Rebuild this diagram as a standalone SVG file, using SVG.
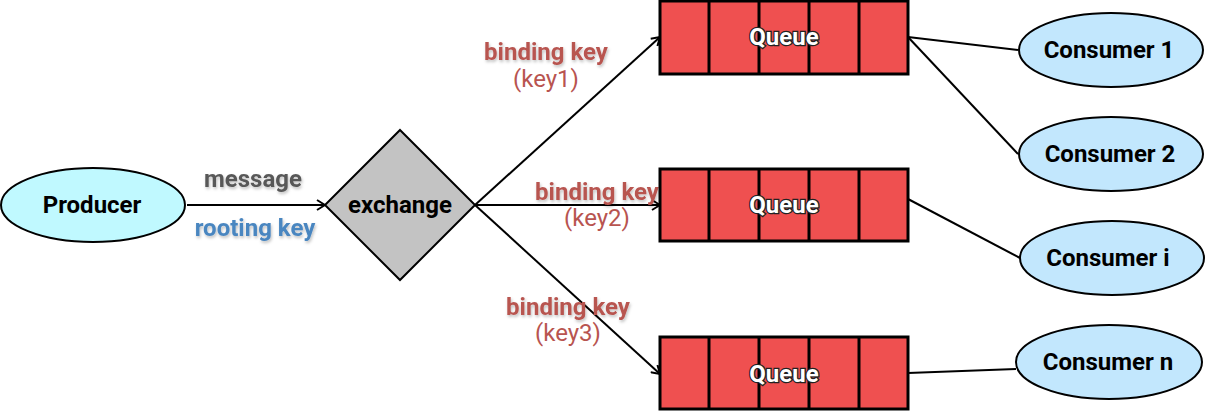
<svg xmlns="http://www.w3.org/2000/svg" width="1206" height="411" viewBox="0 0 1206 411">
<style>
.n{font-family:Roboto,"Liberation Sans",sans-serif;font-weight:bold;font-size:24px;fill:#000;text-anchor:middle;dominant-baseline:central}
.q{font-family:Roboto,"Liberation Sans",sans-serif;font-weight:bold;font-size:24px;fill:#fff;stroke:#222;stroke-width:2.5;paint-order:stroke;text-anchor:middle;dominant-baseline:central}
.bk{font-family:Roboto,"Liberation Sans",sans-serif;font-weight:bold;font-size:24px;fill:#b85450;text-anchor:middle;dominant-baseline:central}
.k{font-family:Roboto,"Liberation Sans",sans-serif;font-size:24px;fill:#b85450;text-anchor:middle;dominant-baseline:central}
.cell{fill:#ef5050;stroke:#000;stroke-width:3}
.ell{stroke:#000;stroke-width:2}
.c{fill:none;stroke:#000;stroke-width:2}
</style>
<defs>
<marker id="arr" viewBox="0 0 10 12" refX="9" refY="6" markerWidth="10" markerHeight="12" markerUnits="userSpaceOnUse" orient="auto">
<path d="M1,1 L9,6 L1,11" fill="none" stroke="#000" stroke-width="2"/>
</marker>
<filter id="sh" x="-10%" y="-30%" width="120%" height="170%">
<feDropShadow dx="1" dy="2" stdDeviation="1.5" flood-color="#000" flood-opacity="0.25"/>
</filter>
</defs>
<g id="connectors">
<line class="c" x1="187" y1="205" x2="325" y2="205" marker-end="url(#arr)"/>
<line class="c" x1="475" y1="205" x2="660" y2="37" marker-end="url(#arr)"/>
<line class="c" x1="475" y1="205" x2="660" y2="205" marker-end="url(#arr)"/>
<line class="c" x1="475" y1="205" x2="660" y2="374" marker-end="url(#arr)"/>
<line class="c" x1="908" y1="37" x2="1018" y2="50"/>
<line class="c" x1="908" y1="37" x2="1018" y2="154"/>
<line class="c" x1="908" y1="199" x2="1020" y2="258"/>
<line class="c" x1="908" y1="373" x2="1016" y2="369"/>
</g>
<g id="labels" filter="url(#sh)">
<text class="bk" x="253" y="179" style="fill:#595959">message</text>
<text class="bk" x="255" y="228" style="fill:#4a86c0">rooting key</text>
<text class="bk" x="546" y="52">binding key</text>
<text class="bk" x="597" y="192">binding key</text>
<text class="bk" x="568" y="307">binding key</text>
</g>
<g id="keys">
<text class="k" x="546" y="79">(key1)</text>
<text class="k" x="597" y="218">(key2)</text>
<text class="k" x="568" y="333">(key3)</text>
</g>
<g id="producer">
<ellipse class="ell" cx="93" cy="205" rx="92" ry="37" fill="#c0f9ff"/>
<text class="n" x="92" y="205">Producer</text>
</g>
<g id="exchange">
<polygon points="400,130 475,205 400,280 325,205" fill="#c3c3c3" stroke="#000" stroke-width="2"/>
<text class="n" x="400" y="205">exchange</text>
</g>
<g id="queue1">
<rect class="cell" x="660" y="1" width="248" height="73"/>
<line class="cell" x1="709" y1="1" x2="709" y2="74"/><line class="cell" x1="759" y1="1" x2="759" y2="74"/><line class="cell" x1="809" y1="1" x2="809" y2="74"/><line class="cell" x1="859" y1="1" x2="859" y2="74"/>
<text class="q" x="784" y="37">Queue</text>
</g>
<g id="queue2">
<rect class="cell" x="660" y="169" width="248" height="72"/>
<line class="cell" x1="709" y1="169" x2="709" y2="241"/><line class="cell" x1="759" y1="169" x2="759" y2="241"/><line class="cell" x1="809" y1="169" x2="809" y2="241"/><line class="cell" x1="859" y1="169" x2="859" y2="241"/>
<text class="q" x="784" y="205">Queue</text>
</g>
<g id="queue3">
<rect class="cell" x="660" y="337" width="248" height="72"/>
<line class="cell" x1="709" y1="337" x2="709" y2="409"/><line class="cell" x1="759" y1="337" x2="759" y2="409"/><line class="cell" x1="809" y1="337" x2="809" y2="409"/><line class="cell" x1="859" y1="337" x2="859" y2="409"/>
<text class="q" x="784" y="374">Queue</text>
</g>
<g id="consumer1">
<ellipse class="ell" cx="1111" cy="50" rx="92" ry="37" fill="#c2e7fd"/>
<text class="n" x="1109" y="50">Consumer 1</text>
</g>
<g id="consumer2">
<ellipse class="ell" cx="1111" cy="154" rx="92" ry="37" fill="#c2e7fd"/>
<text class="n" x="1110" y="154">Consumer 2</text>
</g>
<g id="consumeri">
<ellipse class="ell" cx="1112" cy="258" rx="92" ry="37" fill="#c2e7fd"/>
<text class="n" x="1108" y="258">Consumer i</text>
</g>
<g id="consumern">
<ellipse class="ell" cx="1109" cy="362" rx="93" ry="37" fill="#c2e7fd"/>
<text class="n" x="1108" y="362">Consumer n</text>
</g>
</svg>
